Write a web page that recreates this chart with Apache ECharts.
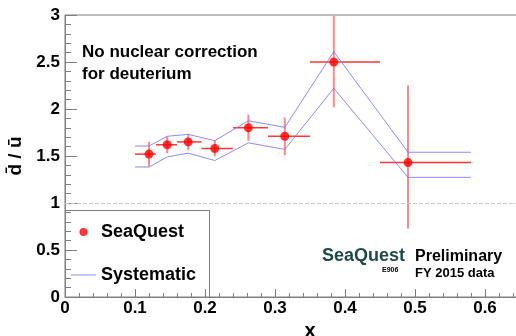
<!DOCTYPE html>
<html>
<head>
<meta charset="utf-8">
<script src="https://cdn.jsdelivr.net/npm/echarts@6/dist/echarts.min.js"></script>
<style>
  html, body { margin: 0; padding: 0; background: #fff; }
  #chart { width: 516px; height: 336px; }
</style>
</head>
<body>
<div id="chart"></div>
<script>
// d-bar / u-bar 比值, SeaQuest FY2015 初步结果
var xCenter = [0.120, 0.146, 0.176, 0.214, 0.262, 0.314, 0.384, 0.490]
var ratio = [1.52, 1.62, 1.65, 1.58, 1.80, 1.71, 2.50, 1.43]
var errUp = [0.13, 0.085, 0.08, 0.085, 0.14, 0.20, 0.49, 0.82]
var errDown = [0.13, 0.09, 0.09, 0.085, 0.14, 0.20, 0.48, 0.70]
var binLow = [0.10, 0.13, 0.16, 0.195, 0.24, 0.29, 0.35, 0.45]
var binHigh = [0.13, 0.16, 0.195, 0.24, 0.29, 0.35, 0.45, 0.58]
var sysUpper = [1.606, 1.71, 1.73, 1.663, 1.875, 1.805, 2.61, 1.54]
var sysLower = [1.383, 1.49, 1.53, 1.452, 1.64, 1.57, 2.22, 1.273]
var xTicks = [0, 0.1, 0.2, 0.3, 0.4, 0.5, 0.6]
var yTicks = [0, 0.5, 1, 1.5, 2, 2.5, 3]

var font = 'Liberation Sans, Arial, Helvetica, sans-serif'
var axisGray = '#7f7f7f'
var bandColor = 'rgba(110, 110, 255, 0.8)'

var dom = document.getElementById('chart')
var myChart = echarts.init(dom)

// 系统误差带: 从第一个 bin 左边到最后一个 bin 右边
function bandData(vals) {
    var out = [[binLow[0], vals[0]]]
    xCenter.forEach(function (x, i) {
        out.push([x, vals[i]])
    })
    out.push([binHigh[binHigh.length - 1], vals[vals.length - 1]])
    return out
}

function isTick(list, v) {
    return list.some(function (t) { return Math.abs(t - v) < 1e-6 })
}

function fmt(list) {
    return function (v) {
        if (!isTick(list, v)) return ''
        return String(Math.round(v * 10) / 10)
    }
}

var option = {
    animation: false,
    grid: {
        left: 65,
        right: -39,
        top: 15,
        bottom: 39,
        show: true,
        borderColor: axisGray,
        borderWidth: 1,
        outerBoundsMode: 'none'
    },
    legend: {
        left: 71,
        top: 223,
        orient: 'vertical',
        padding: 0,
        itemWidth: 25,
        itemHeight: 8,
        itemGap: 25,
        textStyle: { fontFamily: font, fontSize: 18, fontWeight: 'bold', color: '#000' },
        data: [
            { name: 'SeaQuest', icon: 'circle' },
            { name: 'Systematic', icon: 'path://M0,0 L50,0 L50,2 L0,2 Z' }
        ]
    },
    xAxis: {
        type: 'value',
        min: 0,
        max: 0.7,
        interval: 0.1,
        name: 'x',
        nameLocation: 'middle',
        nameGap: 24,
        nameTextStyle: { fontFamily: font, fontSize: 20, fontWeight: 'bold', color: '#000' },
        axisLine: { lineStyle: { color: axisGray } },
        axisTick: { inside: true, length: 8, lineStyle: { color: axisGray } },
        minorTick: { show: true, splitNumber: 5, length: 4, lineStyle: { color: axisGray } },
        splitLine: { show: false },
        axisLabel: {
            fontFamily: font, fontSize: 17, fontWeight: 'bold', color: '#000', margin: 3,
            formatter: fmt(xTicks)
        }
    },
    yAxis: {
        type: 'value',
        min: 0,
        max: 3,
        interval: 0.5,
        name: 'd\u0304 / \u016b',
        nameLocation: 'middle',
        nameRotate: 90,
        nameGap: 36,
        nameTextStyle: { fontFamily: font, fontSize: 19, fontWeight: 'bold', color: '#000' },
        axisLine: { lineStyle: { color: axisGray } },
        axisTick: { inside: true, length: 12, lineStyle: { color: axisGray } },
        minorTick: { show: true, splitNumber: 5, length: 6, lineStyle: { color: axisGray } },
        splitLine: { show: false },
        axisLabel: {
            fontFamily: font, fontSize: 17, fontWeight: 'bold', color: '#000', margin: 5,
            formatter: fmt(yTicks)
        }
    },
    series: [
        {
            type: 'line',
            name: 'Systematic',
            symbol: 'none',
            lineStyle: { color: bandColor, width: 1 },
            itemStyle: { color: bandColor },
            data: bandData(sysUpper),
            markLine: {
                silent: true,
                symbol: 'none',
                label: { show: false },
                lineStyle: { color: '#c8c8c8', type: 'dashed', width: 1 },
                data: [{ yAxis: 1 }]
            }
        },
        {
            type: 'line',
            name: 'Systematic',
            symbol: 'none',
            lineStyle: { color: bandColor, width: 1 },
            itemStyle: { color: bandColor },
            data: bandData(sysLower)
        },
        {
            type: 'custom',
            name: 'stat',
            renderItem: function (params, api) {
                var c = api.coord([api.value(0), api.value(1)])
                var lo = api.coord([api.value(2), api.value(1)])
                var hi = api.coord([api.value(3), api.value(1)])
                var bot = api.coord([api.value(0), api.value(4)])
                var top = api.coord([api.value(0), api.value(5)])
                return {
                    type: 'group',
                    children: [
                        {
                            type: 'line',
                            shape: { x1: c[0], y1: top[1], x2: c[0], y2: bot[1] },
                            style: { stroke: 'rgba(255, 70, 70, 0.65)', lineWidth: 2 }
                        },
                        {
                            type: 'line',
                            shape: { x1: lo[0], y1: c[1], x2: hi[0], y2: c[1] },
                            style: { stroke: 'rgba(255, 20, 20, 0.85)', lineWidth: 1.5 }
                        }
                    ]
                }
            },
            encode: { x: 0, y: 1 },
            data: xCenter.map(function (x, i) {
                return [x, ratio[i], binLow[i], binHigh[i], ratio[i] - errDown[i], ratio[i] + errUp[i]]
            })
        },
        {
            type: 'scatter',
            name: 'SeaQuest',
            symbol: 'circle',
            symbolSize: 9,
            itemStyle: { color: '#ff0000' },
            data: xCenter.map(function (x, i) { return [x, ratio[i]] })
        }
    ],
    graphic: [
        // 图例边框
        {
            type: 'rect',
            shape: { x: 65.5, y: 210.5, width: 144, height: 87 },
            style: { fill: 'none', stroke: axisGray, lineWidth: 1 },
            z: 1
        },
        {
            type: 'text',
            left: 82,
            top: 41,
            style: {
                text: 'No nuclear correction\nfor deuterium',
                font: 'bold 17px ' + font,
                lineHeight: 22,
                fill: '#000'
            }
        },
        {
            type: 'text',
            left: 322,
            top: 247,
            style: { text: 'SeaQuest', font: 'bold 18px ' + font, fill: '#1d4a44' }
        },
        {
            type: 'text',
            left: 382,
            top: 267,
            style: { text: 'E906', font: 'bold 7px ' + font, fill: '#000' }
        },
        {
            type: 'text',
            left: 415,
            top: 249,
            style: { text: 'Preliminary', font: 'bold 16px ' + font, fill: '#000' }
        },
        {
            type: 'text',
            left: 415,
            top: 267,
            style: { text: 'FY 2015 data', font: 'bold 13px ' + font, fill: '#000' }
        }
    ]
}

myChart.setOption(option)
</script>
</body>
</html>
